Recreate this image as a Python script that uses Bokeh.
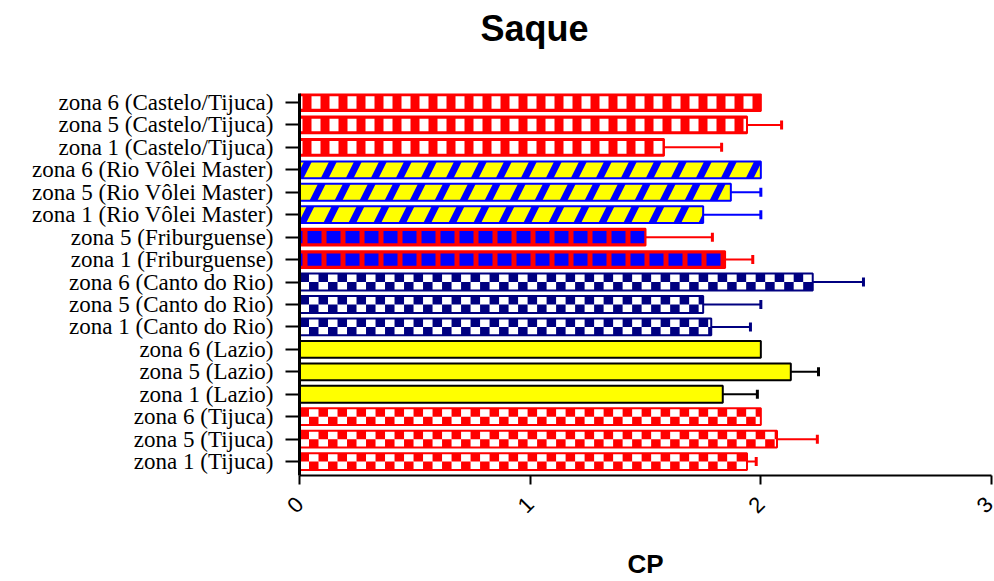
import math
from bokeh.plotting import figure
from bokeh.models import (ColumnDataSource, Whisker, TeeHead, FixedTicker, Range1d, Title)
from bokeh.embed import file_html
from bokeh.resources import INLINE

# ---- data (bottom row first) ----
categories = [
    "zona 1 (Tijuca)", "zona 5 (Tijuca)", "zona 6 (Tijuca)",
    "zona 1 (Lazio)", "zona 5 (Lazio)", "zona 6 (Lazio)",
    "zona 1 (Canto do Rio)", "zona 5 (Canto do Rio)", "zona 6 (Canto do Rio)",
    "zona 1 (Friburguense)", "zona 5 (Friburguense)",
    "zona 1 (Rio Vôlei Master)", "zona 5 (Rio Vôlei Master)", "zona 6 (Rio Vôlei Master)",
    "zona 1 (Castelo/Tijuca)", "zona 5 (Castelo/Tijuca)", "zona 6 (Castelo/Tijuca)",
]
teams = [
    "Tijuca", "Tijuca", "Tijuca",
    "Lazio", "Lazio", "Lazio",
    "Canto do Rio", "Canto do Rio", "Canto do Rio",
    "Friburguense", "Friburguense",
    "Rio Vôlei Master", "Rio Vôlei Master", "Rio Vôlei Master",
    "Castelo/Tijuca", "Castelo/Tijuca", "Castelo/Tijuca",
]
values = [1.94, 2.07, 2.00,
          1.835, 2.13, 2.00,
          1.785, 1.75, 2.225,
          1.845, 1.50,
          1.75, 1.87, 2.00,
          1.58, 1.94, 2.00]
errors = [0.04, 0.175, 0.0,
          0.15, 0.12, 0.0,
          0.17, 0.25, 0.22,
          0.12, 0.29,
          0.25, 0.13, 0.0,
          0.25, 0.15, 0.0]
x_ticks = [0, 1, 2, 3]
title_text = "Saque"
x_label = "CP"

ypos = list(range(len(categories)))

# ---- styles ----
BAR_H = 0.75
CELL = 0.0412   # checker cell width in data units (~9.5 px)
styles = {
    "Tijuca": dict(kind="checker", fill="white", line="red", pat="red", whisk="red"),
    "Lazio": dict(kind="plain", fill="yellow", line="black", whisk="black"),
    "Canto do Rio": dict(kind="checker", fill="white", line="navy", pat="navy", whisk="navy"),
    "Friburguense": dict(kind="squares", fill="red", line="red", pat="blue", whisk="red"),
    "Rio Vôlei Master": dict(kind="diag", fill="yellow", line="blue", pat="blue", whisk="blue"),
    "Castelo/Tijuca": dict(kind="dashes", fill="red", line="red", pat="white", whisk="red"),
}

p = figure(width=994, height=581, output_backend="svg", toolbar_location=None,
           x_range=Range1d(0, 3), y_range=Range1d(-0.62, 16.4),
           min_border_left=299, min_border_right=3, min_border_top=93,
           min_border_bottom=105)

for team, st in styles.items():
    idx = [i for i, t in enumerate(teams) if t == team]
    src = ColumnDataSource(dict(
        y=[ypos[i] for i in idx],
        v=[values[i] for i in idx],
    ))
    kind = st["kind"]
    if kind == "diag":
        p.hbar(y="y", left=0, right="v", height=BAR_H, source=src,
               fill_color=st["fill"], line_color=None,
               hatch_pattern="right_diagonal_line", hatch_color=st["pat"],
               hatch_scale=50, hatch_weight=7)
    else:
        p.hbar(y="y", left=0, right="v", height=BAR_H, source=src,
               fill_color=st["fill"], line_color=None)
    if kind == "checker":
        # checker cells: two staggered rows of squares inside each bar
        L, R, T, B = [], [], [], []
        for i in idx:
            k = 0
            x = 0.0
            while x < values[i] - 1e-9:
                right = min(x + CELL, values[i])
                L.append(x); R.append(right)
                if k % 2 == 0:
                    T.append(ypos[i] + BAR_H / 2); B.append(ypos[i])
                else:
                    T.append(ypos[i]); B.append(ypos[i] - BAR_H / 2)
                k += 1
                x += CELL
        p.quad(left=L, right=R, top=T, bottom=B, fill_color=st["pat"], line_color=None)
    elif kind == "squares":
        p.hbar(y="y", left=0, right="v", height=0.54, source=src,
               fill_alpha=0, line_color=None,
               hatch_pattern="vertical_line", hatch_color=st["pat"],
               hatch_scale=19, hatch_weight=14)
    elif kind == "dashes":
        p.hbar(y="y", left=0, right="v", height=0.56, source=src,
               fill_alpha=0, line_color=None,
               hatch_pattern="vertical_line", hatch_color=st["pat"],
               hatch_scale=18, hatch_weight=9)
    p.hbar(y="y", left=0, right="v", height=BAR_H, source=src,
           fill_alpha=0, line_color=st["line"], line_width=2)

    eidx = [i for i in idx if errors[i] > 0]
    esrc = ColumnDataSource(dict(
        y=[ypos[i] for i in eidx],
        lo=[values[i] for i in eidx],
        hi=[values[i] + errors[i] for i in eidx],
    ))
    w = Whisker(source=esrc, base="y", lower="lo", upper="hi", dimension="width",
                line_color=st["whisk"], line_width=2, lower_head=None,
                upper_head=TeeHead(size=9, line_color=st["whisk"], line_width=3))
    p.add_layout(w)

# ---- title: blank spacer next to the plot area, then the title above it ----
p.title.text = ""
p.add_layout(Title(text="\u00a0", text_color="white", text_font_size="36px", standoff=0), "above")
p.add_layout(Title(text=title_text, align="left", offset=181, standoff=4,
                   text_font="Liberation Sans", text_font_style="bold",
                   text_font_size="36px", text_color="black"), "above")

# ---- axes ----
p.xgrid.grid_line_color = None
p.ygrid.grid_line_color = None
p.outline_line_color = None

xa = p.xaxis[0]
xa.ticker = FixedTicker(ticks=x_ticks)
xa.major_label_orientation = math.pi / 4
xa.major_label_text_font = "Liberation Sans"
xa.major_label_text_font_size = "22px"
xa.major_label_text_color = "black"
xa.major_label_standoff = 16
xa.axis_line_width = 2
xa.axis_line_color = "black"
xa.major_tick_line_width = 2
xa.major_tick_line_color = "black"
xa.major_tick_in = 0
xa.major_tick_out = 9
xa.minor_tick_line_color = None
xa.axis_label = x_label
xa.axis_label_text_font = "Liberation Sans"
xa.axis_label_text_font_style = "bold"
xa.axis_label_text_font_size = "26px"
xa.axis_label_text_color = "black"
xa.axis_label_standoff = 26

ya = p.yaxis[0]
ya.ticker = FixedTicker(ticks=ypos)
ya.major_label_overrides = {i: c for i, c in zip(ypos, categories)}
ya.major_label_text_font = "Liberation Serif"
ya.major_label_text_font_size = "23px"
ya.major_label_text_color = "black"
ya.major_label_standoff = 12
ya.axis_line_width = 3
ya.axis_line_color = "black"
ya.major_tick_line_width = 2
ya.major_tick_line_color = "black"
ya.major_tick_in = 0
ya.major_tick_out = 14
ya.minor_tick_line_color = None

open("out.html", "w").write(file_html(p, INLINE))
